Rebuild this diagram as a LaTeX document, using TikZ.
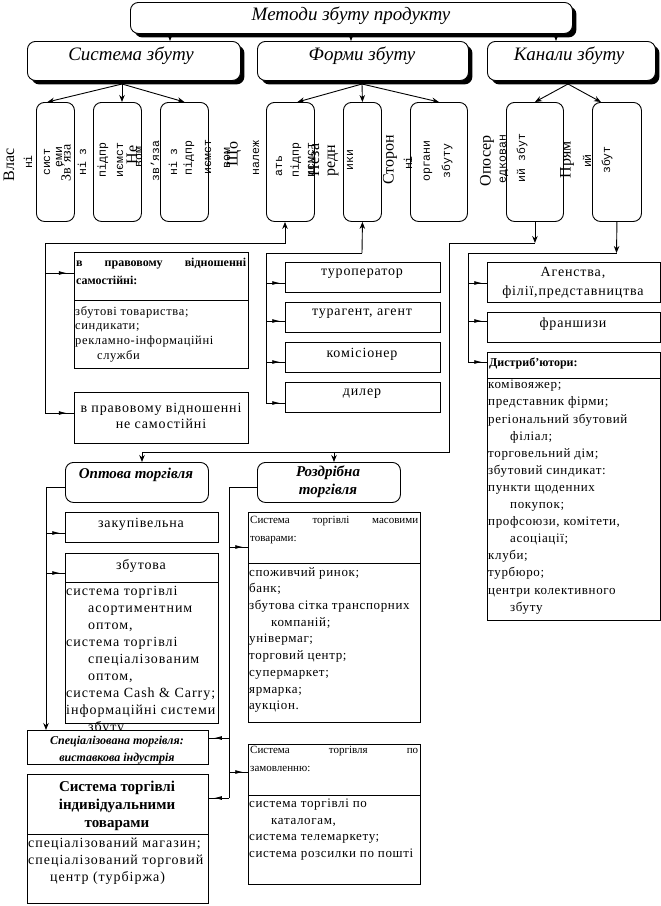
\documentclass[tikz,border=0pt]{standalone}
\usepackage{fontspec}
\setmainfont{Liberation Serif}
\newfontfamily\monof{Liberation Mono}
\newfontfamily\spf[LetterSpace=6]{Liberation Serif}
\newfontfamily\lsa[LetterSpace=5]{Liberation Serif}
\newfontfamily\lsb[LetterSpace=7]{Liberation Serif}
\usetikzlibrary{arrows.meta,shadows,decorations.markings}
\newcommand\fz[2]{\fontsize{#1}{#2}\selectfont}
\newcommand\ind{\hspace*{22pt}}
\tikzset{
 ln/.style={line width=0.9pt},
 rb/.style={draw, ln, rounded corners=8pt, fill=white, inner sep=0, anchor=north west},
 sb/.style={rb, drop shadow={shadow xshift=4pt, shadow yshift=-4pt, fill=black, opacity=1}},
 pb/.style={draw, ln, fill=white, inner sep=0, anchor=north west},
 arr/.style={ln, -{Stealth[length=7pt,width=5.5pt]}},
 marr/.style={ln, decoration={markings, mark=at position 0.75 with {\arrow{Latex[length=8pt,width=4pt]}}}, postaction={decorate}},
 tx/.style={inner sep=0, align=center},
 tl/.style={inner sep=0, align=left, anchor=north west},
 vs/.style={rotate=90, inner sep=0, font=\monof\fz{11.5}{12}},
 vb/.style={rotate=90, inner sep=0, font=\fz{16}{16}},
 vm/.style={rotate=90, inner sep=0, font=\fz{14}{14}},
}
\begin{document}
\begin{tikzpicture}[x=1pt,y=-1pt]
\useasboundingbox (0,0) rectangle (661,906);
\fill[white] (0,0) rectangle (661,906);

% top levels
\node[sb, minimum width=442, minimum height=31] (top) at (130,2) {};
\node[tx, font=\itshape\fz{19}{19}] (ttop) at (351,16) {Методи збуту продукту};
\node[sb, minimum width=213, minimum height=39] (sys) at (27,41) {};
\node[tx, font=\itshape\fz{19}{19}] (tsys) at (131,56) {Система збуту};
\node[sb, minimum width=211, minimum height=39] (frm) at (257,41) {};
\node[tx, font=\itshape\fz{19}{19}] (tfrm) at (362,56) {Форми збуту};
\node[sb, minimum width=168, minimum height=39] (kan) at (487,41) {};
\node[tx, font=\itshape\fz{19}{19}] (tkan) at (569,56) {Канали збуту};

\coordinate (p1) at (170,0);
\coordinate (p2) at (351,0);
\coordinate (p3) at (556,0);
\draw[arr] (top.south -| p1) -- (sys.north -| p1);
\draw[arr] (top.south -| p2) -- (frm.north -| p2);
\draw[arr] (top.south -| p3) -- (kan.north -| p3);

% vertical boxes
\node[rb, minimum width=38, minimum height=119] (v1) at (36,102) {};
\node[rb, minimum width=48, minimum height=119] (v2) at (93,102) {};
\node[rb, minimum width=48, minimum height=119] (v3) at (160,102) {};
\node[rb, minimum width=48, minimum height=119] (v4) at (266,102) {};
\node[rb, minimum width=38, minimum height=119] (v5) at (343,102) {};
\node[rb, minimum width=57, minimum height=119] (v6) at (410,102) {};
\node[rb, minimum width=57, minimum height=119] (v7) at (506,102) {};
\node[rb, minimum width=49, minimum height=119] (v8) at (592,102) {};

\coordinate (j1) at (122,84);
\draw[arr] (j1) -- ([xshift=-8pt]v1.north);
\draw[arr] (j1) -- (j1 |- v2.north);
\draw[arr] (j1) -- (v3.north);
\coordinate (j2) at (362,84);
\draw[arr] (j2) -- ([xshift=7pt]v4.north);
\draw[arr] (j2) -- (v5.north);
\draw[arr] (j2) -- (v6.north);
\coordinate (j3) at (568,84);
\draw[arr] (j3) -- (v7.north);
\draw[arr] (j3) -- ([xshift=-16pt]v8.north);

% vertical text fragments
\node[vb] (w1) at (9,165) {Влас};
\node[vs] (w2) at (28,162) {ні};
\node[vs] (w3) at (47,162) {сист};
\node[vs] (w4) at (59,157) {еми};
\node[vm] (w5) at (66,163) {Зв’яза};
\node[vs] (w6) at (82,162) {ні з};
\node[vs] (w7) at (103,160) {підпр};
\node[vs] (w8) at (120,160) {иємст};
\node[vb] (w9) at (132,155) {Не};
\node[vs] (w10) at (139,157) {вом};
\node[vs] (w11) at (155,161) {зв’яза};
\node[vs] (w12) at (173,162) {ні з};
\node[vs] (w13) at (189,158) {підпр};
\node[vs] (w14) at (208,157) {иємст};
\node[vs] (w15) at (227,158) {вом};
\node[vb] (w16) at (234,154) {Що};
\node[vs] (w17) at (256,158) {належ};
\node[vs] (w18) at (279,166) {ать};
\node[vs] (w19) at (296,160) {підпр};
\node[vs] (w20) at (311,160) {иємст};
\node[vb] (w21) at (314,160) {Неза};
\node[vb] (w22) at (333,161) {редн};
\node[vs] (w23) at (350,160) {ики};
\node[vb] (w24) at (390,160) {Сторон};
\node[vs] (w25) at (408,163) {ні};
\node[vs] (w26) at (428,161) {органи};
\node[vs] (w27) at (447,161) {збуту};
\node[vb] (w28) at (487,161) {Опосер};
\node[vs] (w29) at (504,159) {едкован};
\node[vs] (w30) at (522,158) {ий збут};
\node[vb] (w31) at (567,160) {Прям};
\node[vs] (w32) at (587,161) {ий};
\node[vs] (w33) at (607,160) {збут};

% left group (system)
\node[pb, minimum width=174, minimum height=116] (sam) at (74,252) {};
\draw[ln] (74,300) -- (248,300);
\node[tl, font=\bfseries\fz{12}{18}] (samh) at (76,258) {\hbox to 170pt{в\hfill правовому\hfill відношенні}\\самостійні:};
\node[tl, font=\lsa\fz{12.5}{14.7}] (samb) at (75,306) {збутові товариства;\\синдикати;\\рекламно-інформаційні\\\ind служби};
\node[pb, minimum width=174, minimum height=51] (nsam) at (74,392) {};
\node[tx, font=\spf\fz{14}{16}] (nsamt) at (161,416) {в правовому відношенні\\не самостійні};

\coordinate (a1) at (45,243);
\coordinate (a2) at (285,243);
\coordinate (a3) at (45,413);
\coordinate (a4) at (45,273);
\draw[arr] (a1) -- (a2) -- (a2 |- v4.south);
\draw[ln] (a1) -- (a3);
\draw[marr] (a4) -- (a4 -| sam.west);
\draw[marr] (a3) -- (a3 -| nsam.west);

% forms group
\node[pb, minimum width=155, minimum height=30] (tur) at (285,262) {};
\node[tx, font=\spf\fz{14}{14}] (turt) at (362,274) {туроператор};
\node[pb, minimum width=155, minimum height=30] (tag) at (285,302) {};
\node[tx, font=\spf\fz{14}{14}] (tagt) at (362,314) {турагент, агент};
\node[pb, minimum width=155, minimum height=30] (kom) at (285,342) {};
\node[tx, font=\spf\fz{14}{14}] (komt) at (362,354) {комісіонер};
\node[pb, minimum width=155, minimum height=30] (dil) at (285,382) {};
\node[tx, font=\spf\fz{14}{14}] (dilt) at (362,394) {дилер};

\coordinate (b1) at (362,253);
\coordinate (b2) at (266,253);
\coordinate (b3) at (266,403);
\draw[arr] (b1) -- (v5.south);
\draw[ln] (b1) -- (b2) -- (b3);
\coordinate (b4) at (266,283);
\coordinate (b5) at (266,321);
\coordinate (b6) at (266,362);
\draw[marr] (b4) -- (b4 -| tur.west);
\draw[marr] (b5) -- (b5 -| tag.west);
\draw[marr] (b6) -- (b6 -| kom.west);
\draw[marr] (b3) -- (b3 -| dil.west);

% channels group
\node[pb, minimum width=173, minimum height=40] (age) at (487,262) {};
\node[tx, font=\spf\fz{14}{19}] (aget) at (573,283) {Агенства,\\філії,представництва};
\node[pb, minimum width=173, minimum height=30] (fra) at (487,312) {};
\node[tx, font=\spf\fz{14}{14}] (frat) at (573,324) {франшизи};
\node[pb, minimum width=173, minimum height=268] (dis) at (487,352) {};
\draw[ln] (487,378) -- (660,378);
\node[tl, font=\bfseries\fz{12}{12}] (dish) at (489,358) {Дистриб’ютори:};
\node[tl, font=\lsa\fz{13}{17.1}] (disb) at (488,380) {комівояжер;\\представник фірми;\\регіональний збутовий\\\ind філіал;\\торговельний дім;\\збутовий синдикат:\\пункти щоденних\\\ind покупок;\\профсоюзи, комітети,\\\ind асоціації;\\клуби;\\турбюро;\\центри колективного\\\ind збуту};

\coordinate (e1) at (616.5,253);
\coordinate (e2) at (468,253);
\coordinate (e3) at (468,362);
\coordinate (e4) at (468,283);
\coordinate (e5) at (468,321);
\draw[arr] (v8.south) -- (e1);
\draw[ln] (e1) -- (e2) -- (e3);
\draw[marr] (e4) -- (e4 -| age.west);
\draw[marr] (e5) -- (e5 -| fra.west);
\draw[marr] (e3) -- (e3 -| dis.west);

% lower part
\node[rb, minimum width=143, minimum height=40] (opt) at (65,462) {};
\node[tx, font=\bfseries\itshape\fz{15}{15}] (optt) at (136,475) {Оптова торгівля};
\node[rb, minimum width=143, minimum height=40] (rozd) at (257,462) {};
\node[tx, font=\bfseries\itshape\fz{15}{18}] (rozdt) at (328,482) {Роздрібна\\торгівля};

\coordinate (c2) at (449,243);
\coordinate (c3) at (449,452);
\coordinate (c4) at (142,452);
\coordinate (c5) at (334,452);
\draw[arr] (v7.south) -- (v7.south |- a1);
\draw[ln] (v7.south |- a1) -- (c2) -- (c3) -- (c4);
\draw[arr] (c4) -- (c4 |- opt.north);
\draw[arr] (c5) -- (c5 |- rozd.north);

\node[pb, minimum width=153, minimum height=30] (zak) at (65,512) {};
\node[tx, font=\spf\fz{14}{14}] (zakt) at (141,524) {закупівельна};
\node[pb, minimum width=153, minimum height=170] (zbu) at (65,553) {};
\draw[ln] (65,582) -- (218,582);
\node[tx, font=\spf\fz{14}{14}] (zbuh) at (141,566) {збутова};
\node[tl, font=\lsb\fz{14}{17}] (zbub) at (66,586) {система торгівлі\\\ind асортиментним\\\ind оптом,\\система торгівлі\\\ind спеціалізованим\\\ind оптом,\\система Cash \& Carry;\\інформаційні системи\\\ind збуту};

\node[pb, minimum width=181, minimum height=34] (spe) at (27,730) {};
\node[tx, font=\bfseries\itshape\fz{12}{17}] (spet) at (117,750) {Спеціалізована торгівля:\\виставкова індустрія};
\node[pb, minimum width=181, minimum height=129] (ind) at (27,774) {};
\draw[ln] (27,834) -- (208,834);
\node[tx, font=\bfseries\fz{15}{18}] (indh) at (117,806) {Система торгівлі\\індивідуальними\\товарами};
\node[tl, font=\lsb\fz{14}{17}] (indb) at (28,838) {спеціалізований магазин;\\спеціалізований торговий\\\ind центр (турбіржа)};

\node[pb, minimum width=172, minimum height=210] (mas) at (248,512) {};
\draw[ln] (248,563) -- (420,563);
\node[tl, font=\fz{11}{18}] (mash) at (250,516) {\hbox to 168pt{Система\hfill торгівлі\hfill масовими}\\товарами:};
\node[tl, font=\lsa\fz{13}{16.7}] (masb) at (249,567) {споживчий ринок;\\банк;\\збутова сітка транспорних\\\ind компаній;\\універмаг;\\торговий центр;\\супермаркет;\\ярмарка;\\аукціон.};

\node[pb, minimum width=172, minimum height=140] (ord) at (248,744) {};
\draw[ln] (248,795) -- (420,795);
\node[tl, font=\fz{11}{18}] (ordh) at (250,746) {\hbox to 168pt{Система\hfill торгівля\hfill по}\\замовленню:};
\node[tl, font=\lsa\fz{13}{16.5}] (ordb) at (249,799) {система торгівлі по\\\ind каталогам,\\система телемаркету;\\система розсилки по пошті};

\coordinate (f1) at (46,487);
\coordinate (f2) at (46,533);
\coordinate (f3) at (46,573);
\draw[arr] (f1 -| opt.west) -- (f1) -- (f1 |- spe.north);
\draw[marr] (f2) -- (f2 -| zak.west);
\draw[marr] (f3) -- (f3 -| zbu.west);

\coordinate (g1) at (229,487);
\coordinate (g2) at (229,798);
\coordinate (g3) at (229,547);
\coordinate (g4) at (229,738);
\coordinate (g5) at (229,772);
\draw[ln] (g1 -| rozd.west) -- (g1) -- (g2);
\draw[marr] (g3) -- (g3 -| mas.west);
\draw[marr] (g4) -- (g4 -| spe.east);
\draw[marr] (g5) -- (g5 -| ord.west);
\draw[marr] (g2) -- (g2 -| ind.east);
\end{tikzpicture}
\end{document}
